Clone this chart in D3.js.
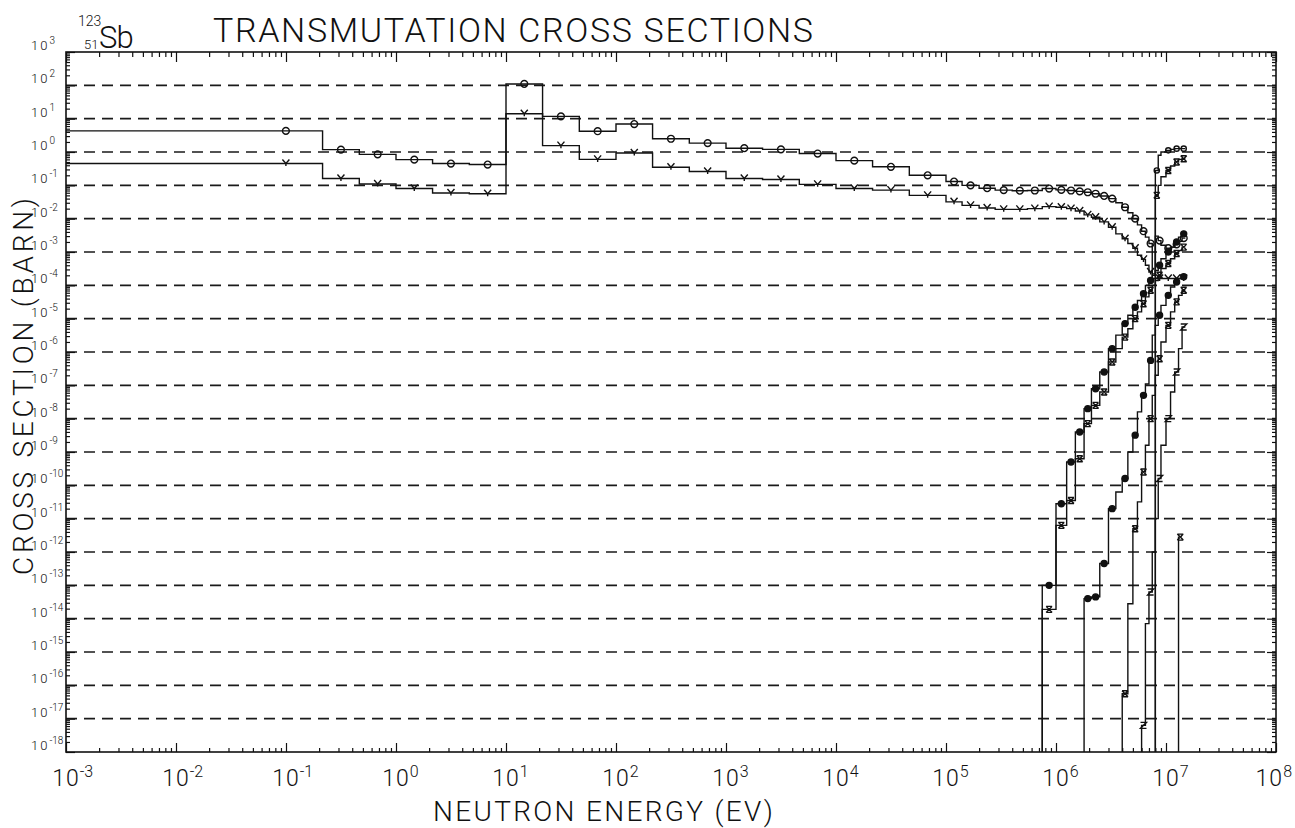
<!DOCTYPE html>
<html>
<head>
<meta charset="utf-8">
<script src="https://cdn.jsdelivr.net/npm/d3@7/dist/d3.min.js"></script>
<style>
html,body{margin:0;padding:0;background:#fff;}
svg{display:block;}
text{font-family:Roboto,"DejaVu Sans",sans-serif;font-weight:300;fill:#111;}
</style>
</head>
<body>
<svg id="chart" width="1295" height="828"></svg>
<script>
// ---------------- data ----------------
const titleText = "TRANSMUTATION CROSS SECTIONS";
const xAxisTitle = "NEUTRON ENERGY (EV)";
const yAxisTitle = "CROSS SECTION (BARN)";
const nuclideMass = "123", nuclideZ = "51", nuclideSym = "Sb";

const xDecades = [-3,-2,-1,0,1,2,3,4,5,6,7,8];
const yDecades = [3,2,1,0,-1,-2,-3,-4,-5,-6,-7,-8,-9,-10,-11,-12,-13,-14,-15,-16,-17,-18];
const gridDecades = [2,1,0,-1,-2,-3,-4,-5,-6,-7,-8,-9,-10,-11,-12,-13,-14,-15,-16,-17];

// energy group boundaries (eV)
const groupBounds = [1e-3,0.215,0.464,1,2.15,4.64,10,21.5,46.4,100,215,464,1e3,2.15e3,4.64e3,1e4,2.15e4,4.64e4,
  1e5,1.4e5,2e5,2.8e5,4e5,5.5e5,7.5e5,1e6,1.25e6,1.5e6,1.8e6,2.1e6,2.5e6,3e6,3.5e6,4e6,4.5e6,5e6,5.5e6,6e6,
  6.5e6,7e6,7.5e6,8e6,8.5e6,9e6,1e7,1.1e7,1.2e7,1.3e7,1.4e7,1.5e7];

// capture (circles)
const captureO = [4.3,1.18,0.85,0.59,0.45,0.42,110,11.7,4.2,6.9,2.5,1.85,1.3,1.2,0.9,0.55,0.36,0.2,
  0.13,0.1,0.082,0.072,0.069,0.07,0.08,0.073,0.07,0.066,0.062,0.056,0.048,0.04,0.03,0.022,0.015,0.01,
  0.0065,0.0042,0.0028,0.0018,0.00022,0.003,0.0022,0.0016,0.0013,0.0014,0.0017,0.0021,0.0026];
// capture (Y marks)
const captureY = [0.45,0.16,0.11,0.08,0.059,0.056,14,1.55,0.6,0.93,0.35,0.26,0.16,0.15,0.107,0.08,0.072,0.05,
  0.032,0.025,0.021,0.019,0.019,0.02,0.023,0.022,0.02,0.017,0.013,0.011,0.008,0.0055,0.0035,0.0025,0.0018,0.0013,
  0.0008,0.0006,0.0004,0.00025,0.00016,0.00016,0.00016,0.00016,0.00016,0.00016,0.00016,0.00016,0.00016];

// threshold reactions: start energy + group values
const thrAStart = 7.5e5;
const thrA = [1e-13,2.8e-11,5e-10,4e-9,2e-8,7.9e-8,2.5e-7,1.26e-6,3.2e-6,7.1e-6,1.26e-5,2.2e-5,3.5e-5,5.6e-5,
  1e-4,1.4e-4,2e-4,2.8e-4,4e-4,6.3e-4,1e-3,1.4e-3,2e-3,2.8e-3,3.5e-3];
const thrBStart = 7.5e5;
const thrB = [1.9e-14,6.3e-12,3.5e-11,6.3e-10,7.1e-9,2.5e-8,6.3e-8,5e-7,1.26e-6,2.8e-6,5e-6,1e-5,1.6e-5,2.8e-5,
  4.5e-5,7.1e-5,1e-4,1.4e-4,2e-4,3.2e-4,4.5e-4,6.3e-4,9e-4,1.1e-3,1.4e-3];
const thrDStart = 1.8e6;
const thrD = [4e-14,4.5e-14,4.5e-13,2e-11,6.3e-11,1.6e-10,1e-9,3.2e-9,1.6e-8,5e-8,1.1e-7,5.6e-7,3.2e-6,6.3e-6,
  1.26e-5,2.5e-5,5e-5,8.9e-5,1.26e-4,1.6e-4,1.8e-4];
const thrHStart = 4e6;
const thrH = [5.6e-17,2.8e-14,5e-12,3.2e-11,2.5e-10,1.6e-9,1e-8,5e-8,2e-7,6.3e-7,2e-6,6.3e-6,1.6e-5,3.2e-5,5e-5,7.1e-5];
const thrEStart = 6e6;
const thrE = [6.3e-18,7.1e-15,6.3e-14,1e-12,1e-11,1.6e-10,1.6e-9,1e-8,6.3e-8,2.5e-7,1.26e-6,5.6e-6];
const thrGStart = 1.3e7;
const thrG = [2.8e-12];
const n2nStart = 8e6;
const n2nO = [0.28,0.8,1.0,1.12,1.2,1.26,1.26,1.26];
const n2nX = [0.05,0.1,0.18,0.28,0.38,0.5,0.6,0.63];

// ---------------- chart ----------------
const W = 1295, X0 = 66, X1 = 1276, Y0 = 52, Y1 = 752;
const svg = d3.select("#chart");
const x = d3.scaleLog().domain([1e-3, 1e8]).range([X0, X1]);
const y = d3.scaleLog().domain([1e-18, 1e3]).range([Y1, Y0]);

// grid
svg.append("g").selectAll("line").data(gridDecades).join("line")
  .attr("x1", X0).attr("x2", X1)
  .attr("y1", d => y(Math.pow(10, d))).attr("y2", d => y(Math.pow(10, d)))
  .attr("stroke", "#1a1a1a").attr("stroke-width", 1.6).attr("stroke-dasharray", "11,7");

// ticks
const minorX = [], minorY = [];
for (let d = -3; d < 8; d++) for (let k = 2; k <= 9; k++) minorX.push(k * Math.pow(10, d));
for (let d = -18; d < 3; d++) for (let k = 2; k <= 9; k++) minorY.push(k * Math.pow(10, d));
const majX = xDecades.map(d => Math.pow(10, d));
const majY = yDecades.map(d => Math.pow(10, d));
function axisG(axisFn, scale, vals, size, tr) {
  const g = svg.append("g").attr("transform", tr)
    .call(axisFn(scale).tickValues(vals).tickSize(size).tickFormat(""));
  g.select(".domain").remove();
  g.selectAll("line").attr("stroke", "#111").attr("stroke-width", 1.2);
}
axisG(d3.axisBottom, x, minorX, -4, `translate(0,${Y1})`);
axisG(d3.axisBottom, x, majX, -9, `translate(0,${Y1})`);
axisG(d3.axisTop, x, minorX, -5, `translate(0,${Y0})`);
axisG(d3.axisTop, x, majX, -10, `translate(0,${Y0})`);
axisG(d3.axisLeft, y, minorY, -4, `translate(${X0},0)`);
axisG(d3.axisLeft, y, majY, -9, `translate(${X0},0)`);
axisG(d3.axisRight, y, minorY, -4, `translate(${X1},0)`);
axisG(d3.axisRight, y, majY, -9, `translate(${X1},0)`);

// frame
svg.append("rect").attr("x", X0).attr("y", Y0).attr("width", X1 - X0).attr("height", Y1 - Y0)
  .attr("fill", "none").attr("stroke", "#111").attr("stroke-width", 1.6);

// data
svg.append("defs").append("clipPath").attr("id", "pc")
  .append("rect").attr("x", X0).attr("y", Y0).attr("width", X1 - X0).attr("height", Y1 - Y0);
const plot = svg.append("g").attr("clip-path", "url(#pc)");

function startIdx(e) { return groupBounds.findIndex(b => Math.abs(b - e) / e < 1e-6); }
function stepPath(si, vals, fromBottom) {
  const p = d3.path();
  const xs = x(groupBounds[si]);
  if (fromBottom) { p.moveTo(xs, Y1 + 2); p.lineTo(xs, y(vals[0])); }
  else p.moveTo(xs, y(vals[0]));
  vals.forEach((v, i) => {
    const xa = x(groupBounds[si + i]), xb = x(groupBounds[si + i + 1]);
    if (i > 0) p.lineTo(xa, y(v));
    p.lineTo(xb, y(v));
  });
  return p.toString();
}
function markerPos(si, vals) {
  const out = []; let last = -1e9;
  vals.forEach((v, i) => {
    const lo = Math.log10(groupBounds[si + i]), hi = Math.log10(groupBounds[si + i + 1]);
    const lm = (hi - lo) > 2 ? hi - 1 / 3 : (lo + hi) / 2;
    const px = x(Math.pow(10, lm));
    if (px - last >= 7) { out.push([px, y(v)]); last = px; }
  });
  return out;
}
const shapes = {
  o: "M3.4,0A3.4,3.4 0 1,1 -3.4,0A3.4,3.4 0 1,1 3.4,0Z",
  osm: "M2.6,0A2.6,2.6 0 1,1 -2.6,0A2.6,2.6 0 1,1 2.6,0Z",
  Y: "M-3.5,-4L0,0L3.5,-4M0,0L0,2.5",
  dot: "M3,0A3,3 0 1,1 -3,0A3,3 0 1,1 3,0Z",
  X: "M-3,-3L3,3M3,-3L-3,3M-3,-3L3,-3M-3,3L3,3",
  Z: "M-3,-3H3L-3,3H3"
};
const series = [
  {s: 0, v: captureO, b: false, m: "o", fill: "none"},
  {s: 0, v: captureY, b: false, m: "Y", fill: "none"},
  {s: startIdx(thrAStart), v: thrA, b: true, m: "dot", fill: "#111"},
  {s: startIdx(thrBStart), v: thrB, b: true, m: "X", fill: "none"},
  {s: startIdx(thrDStart), v: thrD, b: true, m: "dot", fill: "#111"},
  {s: startIdx(thrHStart), v: thrH, b: true, m: "X", fill: "none"},
  {s: startIdx(thrEStart), v: thrE, b: true, m: "Z", fill: "none"},
  {s: startIdx(thrGStart), v: thrG, b: true, m: "X", fill: "none"},
  {s: startIdx(n2nStart), v: n2nO, b: true, m: "osm", fill: "none"},
  {s: startIdx(n2nStart), v: n2nX, b: true, m: "X", fill: "none"}
];
series.forEach(sr => {
  plot.append("path").attr("d", stepPath(sr.s, sr.v, sr.b))
    .attr("fill", "none").attr("stroke", "#111").attr("stroke-width", 1.4);
  plot.append("g").selectAll("path").data(markerPos(sr.s, sr.v)).join("path")
    .attr("transform", d => `translate(${d[0]},${d[1]})`)
    .attr("d", shapes[sr.m]).attr("fill", sr.fill).attr("stroke", "#111").attr("stroke-width", 1.4);
});

// x tick labels: "10" centred on the tick, exponent raised after it
xDecades.forEach(d => {
  const t = svg.append("text").attr("y", 786).attr("font-size", 23).attr("letter-spacing", 1);
  const b = t.append("tspan").text("10");
  t.append("tspan").attr("font-size", 16).attr("dy", -9).attr("letter-spacing", 0).text(d);
  const w = b.node().getComputedTextLength();
  let sx = x(Math.pow(10, d)) - w / 2;
  const total = t.node().getComputedTextLength();
  if (sx + total > W - 3) sx = W - 3 - total;
  t.attr("x", sx);
});
// y tick labels
yDecades.forEach(d => {
  const t = svg.append("text").attr("x", 31).attr("y", y(Math.pow(10, d)) - 2)
    .attr("font-size", 13).attr("letter-spacing", 2);
  t.append("tspan").text("10");
  t.append("tspan").attr("font-size", 10).attr("dy", -6).attr("letter-spacing", 0).text(d);
});

// titles
svg.append("text").attr("x", 213).attr("y", 42).attr("font-size", 34)
  .attr("textLength", 600).attr("lengthAdjust", "spacing").text(titleText);
svg.append("text").attr("x", 433).attr("y", 821).attr("font-size", 28)
  .attr("textLength", 340).attr("lengthAdjust", "spacing").text(xAxisTitle);
svg.append("text").attr("transform", "translate(33,575) rotate(-90)").attr("font-size", 28)
  .attr("textLength", 377).attr("lengthAdjust", "spacing").text(yAxisTitle);
svg.append("text").attr("x", 78).attr("y", 26).attr("font-size", 14).text(nuclideMass);
svg.append("text").attr("x", 84).attr("y", 49).attr("font-size", 13).text(nuclideZ);
svg.append("text").attr("x", 99).attr("y", 48).attr("font-size", 31).attr("letter-spacing", -1).text(nuclideSym);
</script>
</body>
</html>
